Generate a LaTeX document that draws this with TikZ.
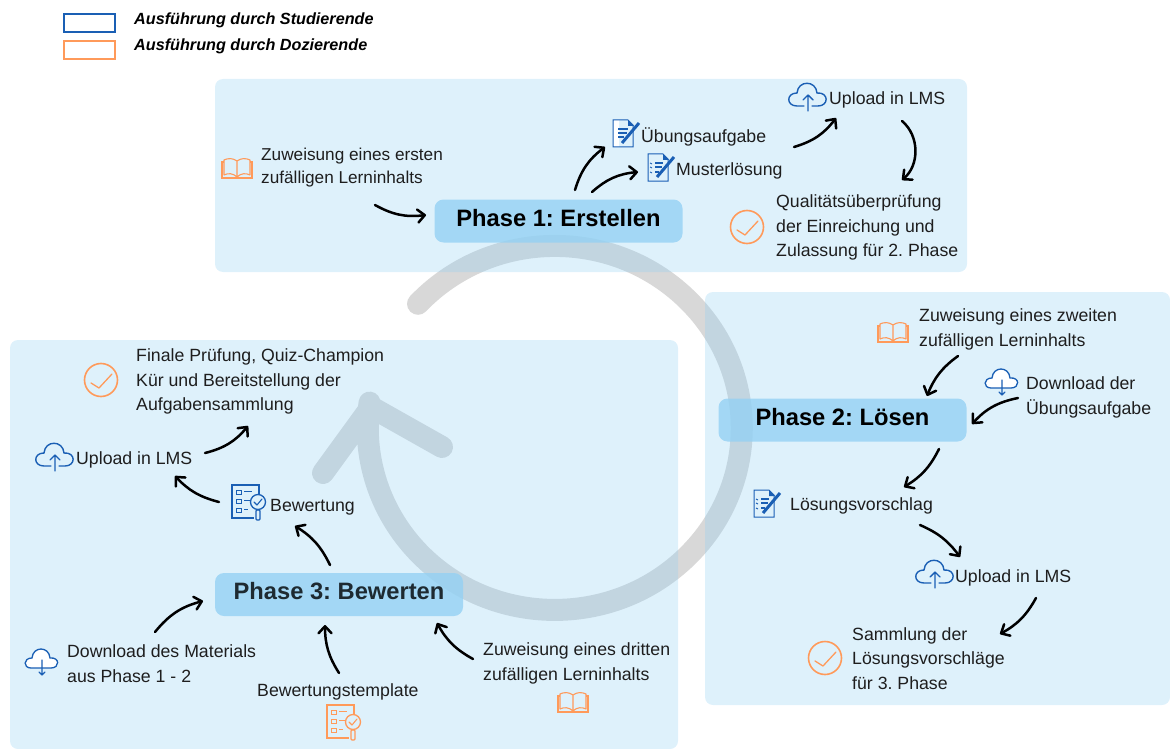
\documentclass[tikz,border=0pt]{standalone}
\usepackage{fontspec}
\setmainfont{Liberation Sans}
\usetikzlibrary{arrows.meta}
\definecolor{phaseblue}{HTML}{94D1F3}
\definecolor{ringgray}{HTML}{D8D8D8}
\definecolor{studblue}{HTML}{1A5FB4}
\definecolor{dozorange}{HTML}{FF9A5A}
\definecolor{bodytext}{HTML}{1E1E1E}
\tikzset{
    panel/.style={fill=phaseblue,fill opacity=.31,rounded corners=8pt},
    ring/.style={draw=ringgray,line width=22pt,line cap=round,line join=round},
    phasebox/.style={fill=phaseblue,fill opacity=.8,text opacity=1,rounded corners=9pt,minimum height=43pt,minimum width=248pt,
        font=\fontsize{23.7}{26}\selectfont\bfseries,inner sep=0pt,text height=16pt,text depth=6pt},
    txt/.style={anchor=west,align=left,inner sep=0pt,yshift=-1.5pt,text=bodytext,font=\fontsize{17.7}{24.4}\selectfont},
    legendbox/.style={draw,line width=2pt,minimum width=51pt,minimum height=18pt,inner sep=0pt},
    legendtxt/.style={anchor=west,inner sep=0pt,yshift=-1.5pt,font=\fontsize{16.2}{18}\selectfont\bfseries\itshape},
    flow/.style={-{Straight Barb[length=7pt,width=13pt,line width=2.5pt,round]},line width=2.5pt,line cap=round},
    pics/cloudup/.style={code={
        \draw[#1,line width=1.4pt,line cap=round] (-4,9) -- (-11,9) .. controls (-22,9) and (-22,-4) .. (-11,-4)
            .. controls (-10,-17) and (8,-17) .. (9,-4) .. controls (21,-5) and (21,9) .. (10,9) -- (4,9);
        \draw[#1,line width=1.4pt,line cap=round,line join=round] (0,14) -- (0,-2) (-5,3) -- (0,-2) -- (5,3);
    }},
    pics/clouddown/.style={code={
        \fill[white] (-11,6) .. controls (-19,6) and (-19,-4) .. (-10,-4) .. controls (-9,-16) and (7,-16) .. (8,-4)
            .. controls (18,-5) and (18,6) .. (9,6) -- cycle;
        \draw[#1,line width=1.3pt] (-11,6) .. controls (-19,6) and (-19,-4) .. (-10,-4) .. controls (-9,-16) and (7,-16) .. (8,-4)
            .. controls (18,-5) and (18,6) .. (9,6) -- cycle;
        \draw[#1,line width=1.2pt,line cap=round,line join=round] (0,-2) -- (0,13) (-3,10) -- (0,13) -- (3,10);
    }},
    pics/bookicon/.style={code={
        \draw[#1,line width=1.1pt,line join=round] (0,9) -- (0,-7) .. controls (-4,-10) and (-9,-10) .. (-13,-8) -- (-13,7)
            .. controls (-9,5) and (-4,5) .. (0,9) .. controls (4,5) and (9,5) .. (13,7) -- (13,-8)
            .. controls (9,-10) and (4,-10) .. (0,-7);
        \draw[#1,line width=1.1pt] (-13,-6) -- (-15,-6) -- (-15,10) -- (15,10) -- (15,-6) -- (13,-6);
    }},
    pics/checkicon/.style={code={
        \draw[#1,line width=1.6pt] (0,0) circle (16.5);
        \draw[#1,line width=1.3pt,line cap=round,line join=round] (-10,3) -- (-2,8) -- (11,-6);
    }},
    pics/docpen/.style={code={
        \fill[white] (-12,-14) rectangle (-6,13);
        \draw[#1,line width=1pt] (-12,-14) -- (3,-14) -- (8,-9) -- (8,13) -- (-12,13) -- cycle;
        \fill[#1] (3,-14) -- (9,-8) -- (3,-8) -- cycle;
        \draw[#1,line width=1.4pt] (-7,-5) -- (3,-5) (-7,-1) -- (2,-1) (-7,3) -- (-1,3);
        \draw[#1,line width=3pt] (-3,9) -- (14,-11);
    }},
    pics/checkpen/.style={code={
        \draw[#1,line width=1pt] (-12,-14) -- (3,-14) -- (8,-9) -- (8,13) -- (-12,13) -- cycle;
        \fill[#1] (3,-14) -- (9,-8) -- (3,-8) -- cycle;
        \draw[#1,line width=1.3pt] (-5,-5) -- (3,-5) (-5,-1) -- (2,-1) (-5,4) -- (-1,4);
        \draw[#1,line width=.9pt] (-10,-5) -- (-8,-4) (-10,-1) -- (-8,0) (-10,4) -- (-8,5);
        \draw[#1,line width=3pt] (-3,9) -- (14,-11);
    }},
    pics/gradeicon/.style={code={
        \draw[#1,line width=1.1pt] (14,-7) -- (14,-17) -- (-13,-17) -- (-13,16) -- (9,16);
        \foreach \yy/\ll in {-10/7,-1/5,8/3}{
            \draw[#1,line width=1pt] (-9,\yy-2) rectangle (-4,\yy+2);
            \draw[#1,line width=1pt] (-1,\yy-1) -- (\ll,\yy-1);
        }
        \draw[#1,line width=1.3pt] (13,0) circle (7.5);
        \draw[#1,line width=1.1pt,line cap=round,line join=round] (9,0) -- (12,3) -- (17,-3);
        \draw[#1,line width=1.1pt,rounded corners=1pt] (11,8) rectangle (15,18);
    }}
}
\begin{document}
\frenchspacing
\begin{tikzpicture}[x=1pt,y=-1pt]
    \useasboundingbox (0,0) rectangle (1170,749);

    \draw[ring] (418.0,303.8) arc[start angle=223,end angle=548,x radius=187,y radius=182] (323,473) -- (371,407) -- (442,447);

    \fill[panel] (215,79) rectangle (967,272);
    \fill[panel] (705,292) rectangle (1170,705);
    \fill[panel] (10,340) rectangle (678,749);

    \node[legendbox,draw=studblue] (legstud) at (89,23) {};
    \node[legendbox,draw=dozorange] (legdoz) at (89,50.5) {};
    \node[legendtxt] (legstudtxt) at (134,19) {Ausführung durch Studierende};
    \node[legendtxt] (legdoztxt) at (134,45) {Ausführung durch Dozierende};

    \node[phasebox] (phaseone) at (558.5,221) {Phase 1: Erstellen};
    \node[phasebox] (phasetwo) at (842.5,420) {Phase 2: Lösen};
    \node[phasebox,text=black!80!phaseblue] (phasethree) at (339,594.5) {Phase 3: Bewerten};

    \node[txt,font=\fontsize{17.2}{22.5}\selectfont] (assignone) at (261,166) {Zuweisung eines ersten\\zufälligen Lerninhalts};
    \node[txt] (exercise) at (641,135) {Übungsaufgabe};
    \node[txt] (solution) at (676,169) {Musterlösung};
    \node[txt] (uploadone) at (829,98) {Upload in LMS};
    \node[txt] (qualitycheck) at (776,226) {Qualitätsüberprüfung\\der Einreichung und\\Zulassung für 2. Phase};

    \node[txt] (assigntwo) at (919,328) {Zuweisung eines zweiten\\zufälligen Lerninhalts};
    \node[txt] (download) at (1026,396) {Download der\\Übungsaufgabe};
    \node[txt] (proposal) at (790,504) {Lösungsvorschlag};
    \node[txt] (uploadtwo) at (955,576) {Upload in LMS};
    \node[txt] (collection) at (852,657) {Sammlung der\\Lösungsvorschläge\\für 3. Phase};

    \node[txt] (finalcheck) at (136,380) {Finale Prüfung, Quiz-Champion\\Kür und Bereitstellung der\\Aufgabensammlung};
    \node[txt] (uploadthree) at (76,458) {Upload in LMS};
    \node[txt] (grading) at (270,506) {Bewertung};
    \node[txt] (material) at (67,662) {Download des Materials\\aus Phase 1 - 2};
    \node[txt] (template) at (257,690) {Bewertungstemplate};
    \node[txt] (assignthree) at (483,662) {Zuweisung eines dritten\\zufälligen Lerninhalts};

    \pic at (237,168) {bookicon=dozorange};
    \pic at (893,332) {bookicon=dozorange};
    \pic at (573,702) {bookicon=dozorange};
    \pic at (747,227) {checkicon=dozorange};
    \pic at (825,658) {checkicon=dozorange};
    \pic at (101,380) {checkicon=dozorange};
    \pic at (808,97) {cloudup=studblue};
    \pic at (935,574) {cloudup=studblue};
    \pic at (55,457) {cloudup=studblue};
    \pic at (1002,382) {clouddown=studblue};
    \pic at (42,662) {clouddown=studblue};
    \pic at (625,134) {docpen=studblue};
    \pic at (660,168) {checkpen=studblue};
    \pic at (766,504) {checkpen=studblue};
    \pic at (245,502) {gradeicon=studblue};
    \pic at (340,722) {gradeicon=dozorange};

    \coordinate (aa) at (375,205); \coordinate (ab) at (426,215);
    \draw[flow] (aa) to[bend right=18] (ab);
    \coordinate (ba) at (575,190); \coordinate (bb) at (605,147);
    \draw[flow] (ba) to[bend left=18] (bb);
    \coordinate (ca) at (592,192); \coordinate (cb) at (638,172);
    \draw[flow] (ca) to[bend left=18] (cb);
    \coordinate (da) at (794,147); \coordinate (db) at (836,118);
    \draw[flow] (da) to[bend right=18] (db);
    \coordinate (ea) at (902,121); \coordinate (eb) at (902,180);
    \draw[flow] (ea) to[bend left=50] (eb);

    \coordinate (fa) at (958,356); \coordinate (fb) at (927,396);
    \draw[flow] (fa) to[bend right=16] (fb);
    \coordinate (ga) at (1018,398); \coordinate (gb) at (972,424);
    \draw[flow] (ga) to[bend right=18] (gb);
    \coordinate (ha) at (939,449); \coordinate (hb) at (904,487);
    \draw[flow] (ha) to[bend left=16] (hb);
    \coordinate (ia) at (920,525); \coordinate (ib) at (960,557);
    \draw[flow] (ia) to[bend left=15] (ib);
    \coordinate (ja) at (1036,598); \coordinate (jb) at (1000,634);
    \draw[flow] (ja) to[bend left=16] (jb);

    \coordinate (ka) at (205,453); \coordinate (kb) at (248,426);
    \draw[flow] (ka) to[bend right=18] (kb);
    \coordinate (la) at (219,502); \coordinate (lb) at (175,476);
    \draw[flow] (la) to[bend left=16] (lb);
    \coordinate (ma) at (330,565); \coordinate (mb) at (295,526);
    \draw[flow] (ma) to[bend right=16] (mb);
    \coordinate (na) at (155,632); \coordinate (nb) at (203,601);
    \draw[flow] (na) to[bend left=18] (nb);
    \coordinate (oa) at (339,673); \coordinate (ob) at (325,625);
    \draw[flow] (oa) to[bend left=16] (ob);
    \coordinate (pa) at (473,659); \coordinate (pb) at (437,623);
    \draw[flow] (pa) to[bend left=16] (pb);
\end{tikzpicture}
\end{document}
